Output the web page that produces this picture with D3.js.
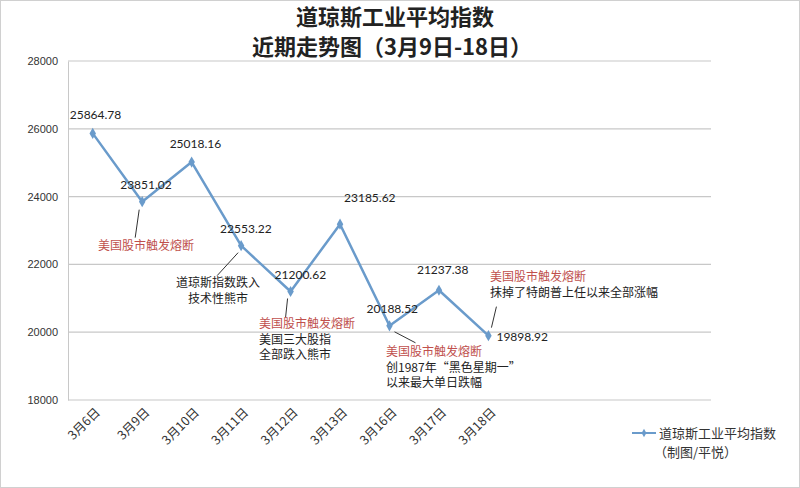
<!DOCTYPE html>
<html lang="zh-CN">
<head>
<meta charset="utf-8">
<title>道琼斯工业平均指数</title>
<script src="https://d3js.org/d3.v7.min.js"></script>
<style>
  body { margin: 0; background: #fff; }
  svg { display: block; font-family: "Noto Sans CJK SC", sans-serif; }
</style>
</head>
<body>
<svg id="chart" width="800" height="488"></svg>
<script>
// 数据
var dates = ["3月6日", "3月9日", "3月10日", "3月11日", "3月12日", "3月13日", "3月16日", "3月17日", "3月18日"];
var values = [25864.78, 23851.02, 25018.16, 22553.22, 21200.62, 23185.62, 20188.52, 21237.38, 19898.92];
var yTicks = [18000, 20000, 22000, 24000, 26000, 28000];
var seriesName = "道琼斯工业平均指数";

// 注释：挂在哪个点，文字行
var notes = [
  {i: 1, red: "美国股市触发熔断", lines: []},
  {i: 3, red: null, lines: ["道琼斯指数跌入", "技术性熊市"]},
  {i: 4, red: "美国股市触发熔断", lines: ["美国三大股指", "全部跌入熊市"]},
  {i: 6, red: "美国股市触发熔断", lines: ["创1987年“黑色星期一”", "以来最大单日跌幅"]},
  {i: 8, red: "美国股市触发熔断", lines: ["抹掉了特朗普上任以来全部涨幅"]}
];

var svg = d3.select("#chart");
var pLeft = 68, pRight = 711, pTop = 61, pBottom = 400;
var slots = 13; // 图表横轴留了 13 格，只画了前 9 格

var x = d3.scaleBand().domain(d3.range(slots)).range([pLeft, pRight]);
var y = d3.scaleLinear().domain([18000, 28000]).range([pBottom, pTop]);
var px = function(i) { return x(i) + x.bandwidth() / 2; };

// 外框
svg.append("rect").attr("x", 0.5).attr("y", 0.5).attr("width", 799).attr("height", 487)
  .attr("fill", "none").attr("stroke", "#d0d0d0");

// 标题
svg.append("text").attr("x", 395).attr("y", 25).attr("text-anchor", "middle")
  .attr("font-size", 22).attr("font-weight", "bold").attr("fill", "#222").text("道琼斯工业平均指数");
svg.append("text").attr("x", 392).attr("y", 55).attr("text-anchor", "middle")
  .attr("font-size", 22).attr("font-weight", "bold").attr("fill", "#222").text("近期走势图（3月9日-18日）");

// 网格
svg.append("g").selectAll("line").data(yTicks).join("line")
  .attr("x1", pLeft).attr("x2", pRight)
  .attr("y1", function(d) { return y(d); }).attr("y2", function(d) { return y(d); })
  .attr("stroke", "#c8c8c8").attr("stroke-width", 1.2);

// y 轴
var yAxis = svg.append("g").attr("transform", "translate(" + pLeft + ",0)")
  .call(d3.axisLeft(y).tickValues(yTicks).tickSize(0).tickPadding(10).tickFormat(d3.format("d")));
yAxis.select(".domain").attr("stroke", "#c8c8c8");
yAxis.selectAll("text").attr("font-size", 11).attr("fill", "#333").attr("font-family", "Liberation Sans Narrow, Liberation Sans, sans-serif");

// x 轴标签
svg.append("g").selectAll("text").data(dates).join("text")
  .attr("transform", function(d, i) { return "translate(" + (px(i) + 5) + "," + (pBottom + 10) + ") rotate(-45)"; })
  .attr("text-anchor", "end").attr("dy", "0.35em")
  .attr("font-size", 12.5).attr("fill", "#333").text(function(d) { return d; });

// 折线
var line = d3.line().x(function(d, i) { return px(i); }).y(function(d) { return y(d); });
var blue = "#6a9bcb";
svg.append("path").datum(values).attr("d", line)
  .attr("fill", "none").attr("stroke", blue).attr("stroke-width", 2.5).attr("stroke-linejoin", "round");

var diamond = d3.symbol().type(d3.symbolDiamond).size(36);
svg.append("g").selectAll("path").data(values).join("path")
  .attr("d", diamond)
  .attr("transform", function(d, i) { return "translate(" + px(i) + "," + y(d) + ")"; })
  .attr("fill", blue);

// 数据标签
var labelOff = [[-23, -14], [-22, -13], [-22, -14], [-21, -13], [-16, -12], [4, -22], [-23, -13], [-22, -16], [8, 5]];
svg.append("g").selectAll("text").data(values).join("text")
  .attr("x", function(d, i) { return px(i) + labelOff[i][0]; })
  .attr("y", function(d, i) { return y(d) + labelOff[i][1]; })
  .attr("font-size", 12).attr("fill", "#222")
  .attr("font-family", "Lato, sans-serif")
  .text(function(d) { return d.toFixed(2); });

// 注释
var noteCfg = {
  1: {tx: 98, ty: 250, anchor: "start", lead: [[-3, 8], [-7, 36]]},
  3: {tx: 218, ty: 287, anchor: "middle", lead: [[-3, 7], [-24, 30]]},
  4: {tx: 259, ty: 328, anchor: "start", lead: [[-3, 7], [-5, 26]]},
  6: {tx: 386, ty: 356, anchor: "start", lead: [[5, 6], [26, 17]]},
  8: {tx: 490, ty: 281, anchor: "start", lead: [[3, -8], [8, -29]]}
};
var ng = svg.append("g").attr("font-size", 12);
notes.forEach(function(n) {
  var c = noteCfg[n.i];
  var cx = px(n.i), cy = y(values[n.i]);
  ng.append("line")
    .attr("x1", cx + c.lead[0][0]).attr("y1", cy + c.lead[0][1])
    .attr("x2", cx + c.lead[1][0]).attr("y2", cy + c.lead[1][1])
    .attr("stroke", "#333").attr("stroke-width", 1);
  var rows = (n.red ? [{t: n.red, red: true}] : []).concat(n.lines.map(function(t) { return {t: t, red: false}; }));
  rows.forEach(function(r, k) {
    ng.append("text").attr("x", c.tx).attr("y", c.ty + k * 15.5)
      .attr("text-anchor", c.anchor)
      .attr("fill", r.red ? "#c0504d" : "#222").text(r.t);
  });
});

// 图例
var lg = svg.append("g").attr("transform", "translate(632,433)");
lg.append("line").attr("x1", 0).attr("x2", 24).attr("stroke", blue).attr("stroke-width", 2);
lg.append("path").attr("d", d3.symbol().type(d3.symbolDiamond).size(20)).attr("transform", "translate(12,0)").attr("fill", blue);
lg.append("text").attr("x", 27).attr("dy", "0.35em").attr("font-size", 13).attr("fill", "#333").text(seriesName);
svg.append("text").attr("x", 654).attr("y", 457).attr("font-size", 13).attr("fill", "#333").text("（制图/平悦）");
</script>
</body>
</html>
